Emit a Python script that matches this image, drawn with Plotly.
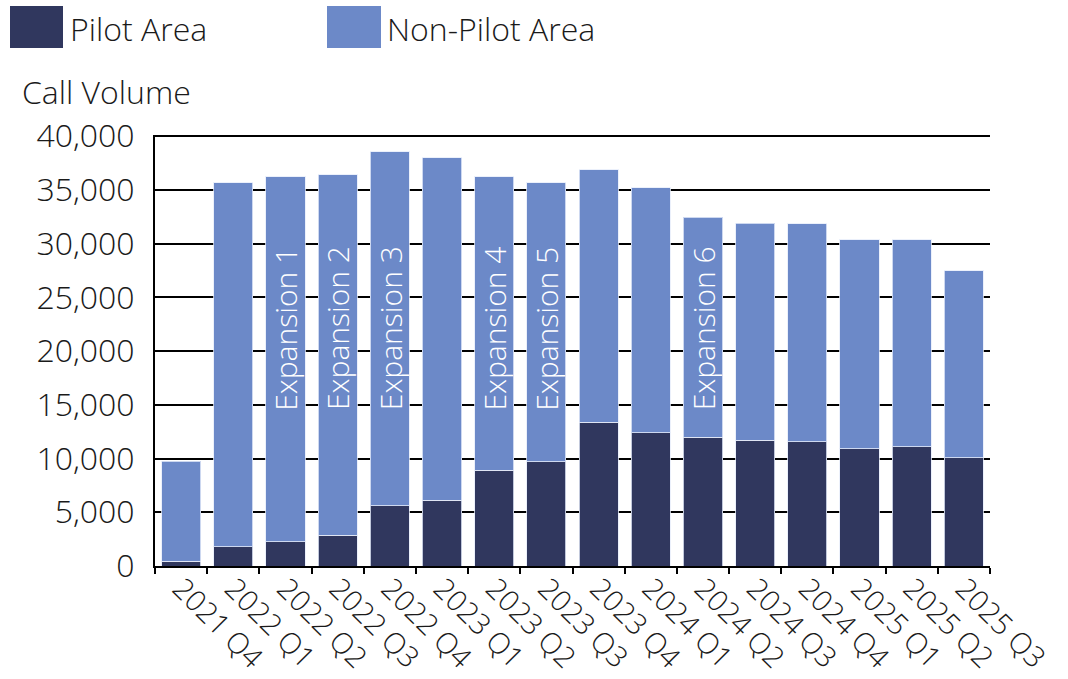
import plotly.graph_objects as go

quarters = ["2021 Q4", "2022 Q1", "2022 Q2", "2022 Q3", "2022 Q4", "2023 Q1",
            "2023 Q2", "2023 Q3", "2023 Q4", "2024 Q1", "2024 Q2", "2024 Q3",
            "2024 Q4", "2025 Q1", "2025 Q2", "2025 Q3"]
pilot = [450, 1800, 2260, 2840, 5610, 6140, 8930, 9680, 13380, 12420, 11980,
         11700, 11540, 10890, 11110, 10090]
total = [9740, 35660, 36200, 36380, 38550, 37970, 36220, 35660, 36880, 35200,
         32470, 31910, 31840, 30350, 30350, 27460]
non_pilot = [t - p for t, p in zip(total, pilot)]

expansion_quarters = ["2022 Q2", "2022 Q3", "2022 Q4", "2023 Q2", "2023 Q3", "2024 Q2"]
expansion_labels = ["Expansion 1", "Expansion 2", "Expansion 3", "Expansion 4",
                    "Expansion 5", "Expansion 6"]
expansion_base = 14300

y_ticks = [0, 5000, 10000, 15000, 20000, 25000, 30000, 35000, 40000]

DARK = "#30375E"
LIGHT = "#6C89C8"
FONT = "Open Sans"
W, H = 1068, 679
L, R, T, B = 155, 78, 135, 113
PW, PH = W - L - R, H - T - B


def px(x):
    return (x - L) / PW


def py(y):
    return (H - B - y) / PH


fig = go.Figure()
fig.add_trace(go.Bar(x=quarters, y=pilot, name="Pilot Area",
                     marker=dict(color=DARK, line=dict(color="rgba(230,236,250,0.8)", width=1))))
fig.add_trace(go.Bar(x=quarters, y=non_pilot, name="Non-Pilot Area",
                     marker=dict(color=LIGHT, line=dict(color="rgba(230,236,250,0.8)", width=1))))

annotations = []
for q, lab in zip(expansion_quarters, expansion_labels):
    annotations.append(dict(x=q, y=expansion_base, xref="x", yref="y", text=lab,
                            textangle=-90, showarrow=False, xanchor="center", yanchor="bottom",
                            font=dict(family=FONT, size=30, color="white", weight=300)))

# legend drawn manually (large swatches)
shapes = []
for (x0, x1), col in [((10, 63), DARK), ((327, 381), LIGHT)]:
    shapes.append(dict(type="rect", xref="paper", yref="paper", x0=px(x0), x1=px(x1),
                       y0=py(48), y1=py(6), fillcolor=col, line=dict(width=0)))
for x0, txt in [(68, "Pilot Area"), (385, "Non-Pilot Area")]:
    annotations.append(dict(x=px(x0), y=py(29), xref="paper", yref="paper", text=txt,
                            showarrow=False, xanchor="left", yanchor="middle",
                            font=dict(family=FONT, size=32, color="#1a1a1a", weight=300)))
annotations.append(dict(x=px(20), y=py(91), xref="paper", yref="paper", text="Call Volume",
                        showarrow=False, xanchor="left", yanchor="middle",
                        font=dict(family=FONT, size=32, color="#1a1a1a", weight=300)))

fig.update_layout(
    barmode="stack",
    bargap=0.25,
    width=W, height=H,
    margin=dict(l=L, r=R, t=T, b=B, pad=0),
    plot_bgcolor="white", paper_bgcolor="white",
    showlegend=False,
    font=dict(family=FONT, size=30, color="#1a1a1a", weight=300),
    annotations=annotations,
    shapes=shapes,
)
fig.update_xaxes(
    type="category",
    automargin=False,
    tickangle=45,
    tickson="boundaries",
    ticks="outside", ticklen=6, tickwidth=2, tickcolor="black",
    ticklabelstandoff=-8,
    showline=True, linecolor="black", linewidth=2,
    showgrid=False,
    tickfont=dict(family=FONT, size=29, color="#1a1a1a", weight=300),
)
fig.update_yaxes(
    automargin=False,
    range=[0, 40100],
    tickvals=y_ticks,
    tickformat=",d",
    ticks="",
    ticklabelstandoff=12,
    showline=True, linecolor="black", linewidth=2,
    showgrid=True, gridcolor="black", gridwidth=2,
    zeroline=False,
    tickfont=dict(family=FONT, size=32, color="#1a1a1a", weight=300),
)

fig.write_html("out.html")
